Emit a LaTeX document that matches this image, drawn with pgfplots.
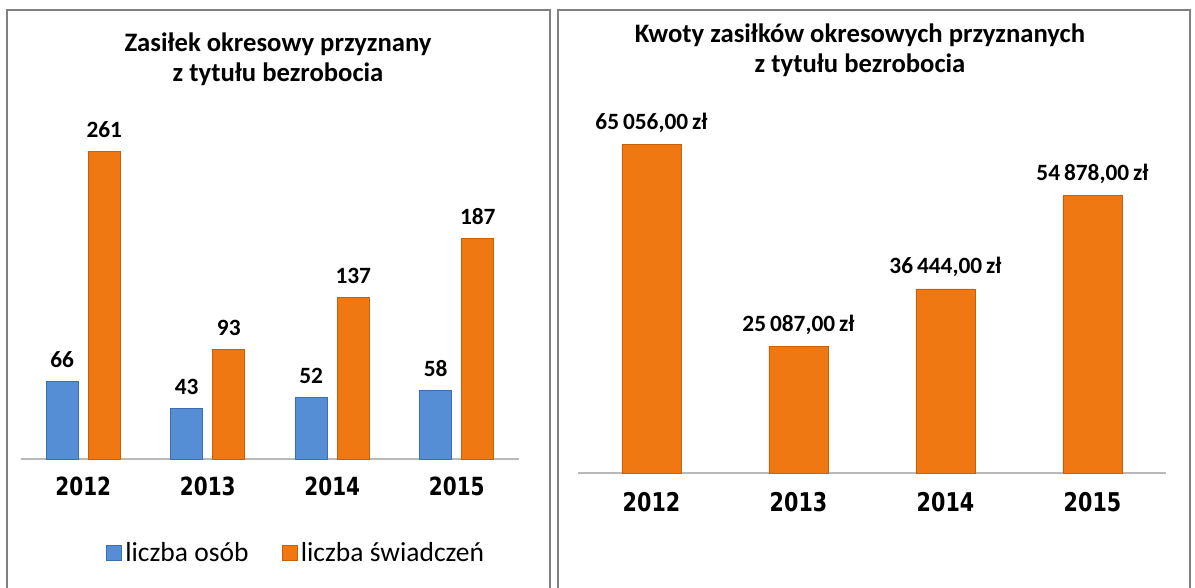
\documentclass[border=0pt]{standalone}
\usepackage{fontspec}
\setmainfont{Carlito}
\newfontfamily\yearfont[FakeStretch=0.8]{DejaVu Sans}
\usepackage{pgfplots}
\pgfplotsset{compat=1.18}
\definecolor{barO}{RGB}{240,120,18}
\definecolor{barOd}{RGB}{200,95,10}
\definecolor{barB}{RGB}{85,142,213}
\definecolor{barBd}{RGB}{60,110,180}
\definecolor{frame}{RGB}{128,128,128}
\begin{document}
\begin{tikzpicture}[x=0.6pt,y=0.6pt]
% panel frames
\draw[frame,line width=1.2pt] (7,-5) -- (7,577) -- (550,577) -- (550,-5);
\draw[frame,line width=1.2pt] (558,-5) -- (558,577) -- (1190,577) -- (1190,-5);
% titles
\node[align=center,font=\fontsize{16}{18}\selectfont\bfseries] at (278,528) {Zasiłek okresowy przyznany\\z tytułu bezrobocia};
\node[align=center,font=\fontsize{16}{18}\selectfont\bfseries] at (860,537) {Kwoty zasiłków okresowych przyznanych\\z tytułu bezrobocia};
% left chart
\begin{axis}[at={(12.6pt,76.8pt)},anchor=south west,scale only axis,
  width=298.8pt,height=212.4pt,
  xmin=-0.5,xmax=3.5,ymin=0,ymax=300,
  axis x line=bottom, axis y line=none,
  x axis line style={draw=gray!55,line width=0.8pt,-},
  xtick={0,1,2,3},xticklabels={2012,2013,2014,2015},
  major tick length=0pt,
  xticklabel style={anchor=center,yshift=-16.5pt,font=\yearfont\bfseries\fontsize{15}{17}\selectfont},
  nodes near coords,
  nodes near coords style={anchor=center,yshift=13pt,font=\bfseries\fontsize{14}{16}\selectfont,text=black},
  point meta=explicit symbolic,
  legend style={at={(0.554,-0.2655)},anchor=center,draw=none,fill=none,legend columns=2,
    font=\fontsize{16.5}{18}\selectfont,
    /tikz/every even column/.append style={column sep=18pt}},
  legend image code/.code={\filldraw[#1] (0pt,-4.5pt) rectangle (9pt,4.5pt);},
]
\addplot[ybar,bar width=19.2pt,bar shift=0pt,draw=barBd,line width=0.4pt,fill=barB] coordinates {(-0.1687,66)[66] (0.8313,43)[43] (1.8313,52)[52] (2.8313,58)[58]};
\addlegendentry{liczba osób}
\addplot[ybar,bar width=19.2pt,bar shift=0pt,draw=barOd,line width=0.4pt,fill=barO] coordinates {(0.1687,261)[261] (1.1687,93)[93] (2.1687,137)[137] (3.1687,187)[187]};
\addlegendentry{liczba świadczeń}
\end{axis}
% right chart
\begin{axis}[at={(346.8pt,68.4pt)},anchor=south west,scale only axis,
  width=352.8pt,height=227.4pt,
  xmin=-0.5,xmax=3.5,ymin=0,ymax=75000,
  axis x line=bottom, axis y line=none,
  x axis line style={draw=gray!55,line width=0.8pt,-},
  xtick={0,1,2,3},xticklabels={2012,2013,2014,2015},
  major tick length=0pt,
  xticklabel style={anchor=center,yshift=-17.7pt,font=\yearfont\bfseries\fontsize{15.5}{17}\selectfont},
  nodes near coords,
  nodes near coords style={anchor=center,yshift=13pt,font=\bfseries\fontsize{14}{16}\selectfont,text=black},
  point meta=explicit symbolic,
]
\addplot[ybar,bar width=35.4pt,bar shift=0pt,draw=barOd,line width=0.4pt,fill=barO] coordinates {(0,65056)[65\,056,00\,zł] (1,25087)[25\,087,00\,zł] (2,36444)[36\,444,00\,zł] (3,54878)[54\,878,00\,zł]};
\end{axis}
\pgfresetboundingbox
\path[use as bounding box] (0,0) rectangle (1195,587);
\end{tikzpicture}
\end{document}
